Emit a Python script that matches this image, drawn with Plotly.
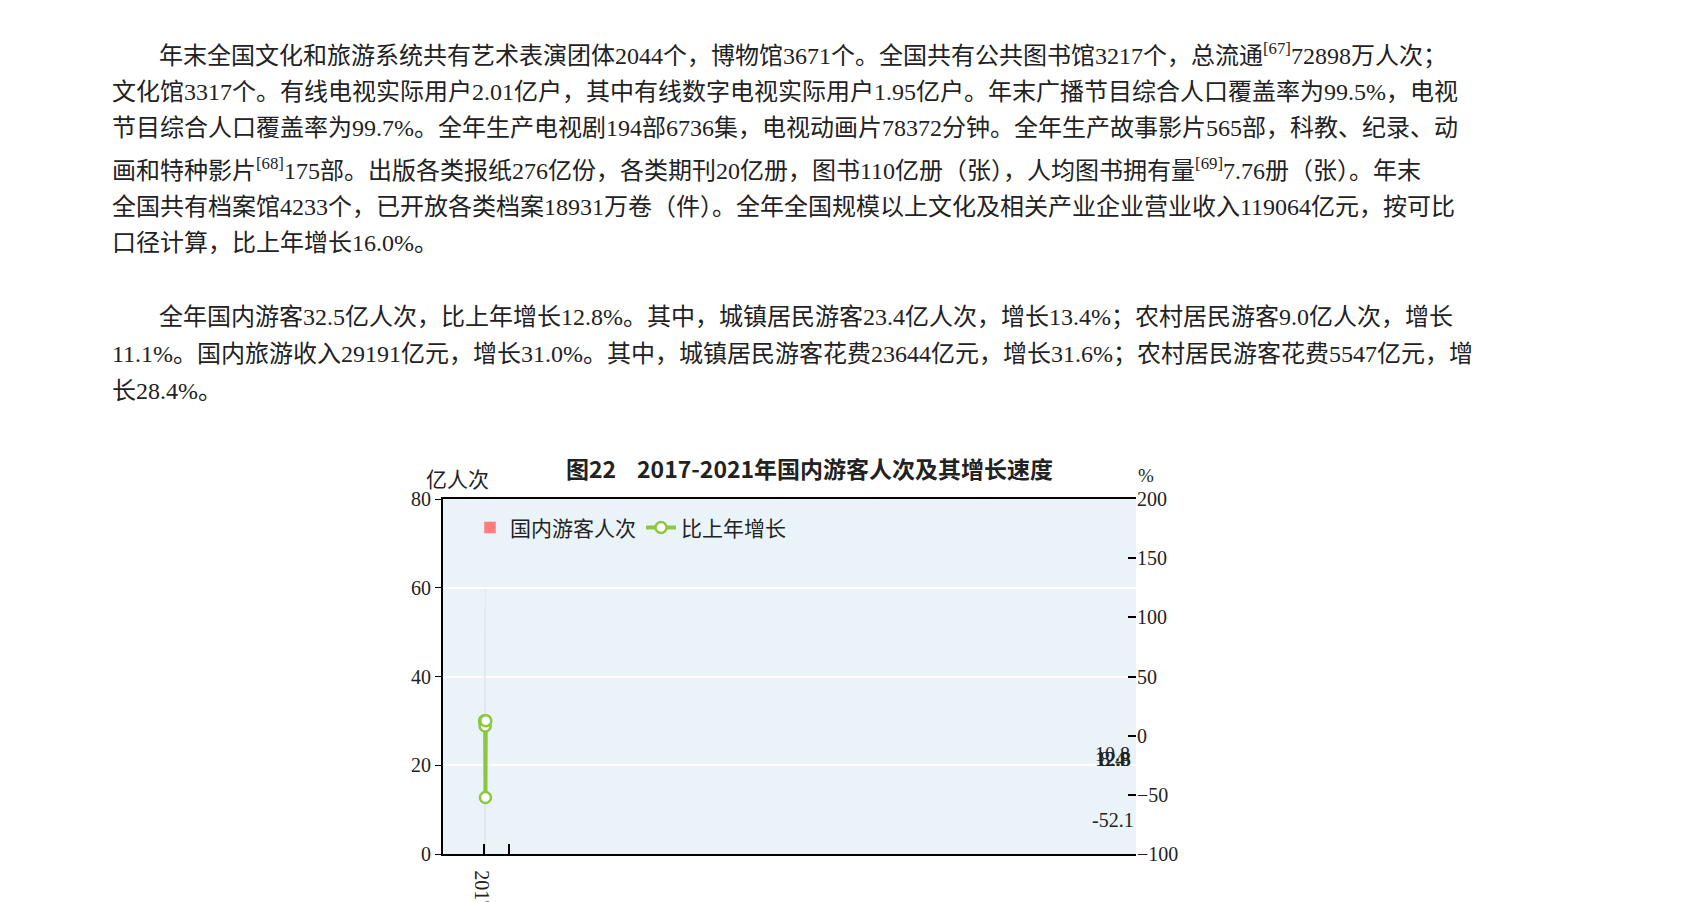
import plotly.graph_objects as go

years = ["2017", "2018", "2019", "2020", "2021"]
tourists = [50.0, 55.4, 60.1, 28.8, 32.5]
growth = [12.8, 10.8, 8.4, -52.1, 12.8]
growth_label_y = [21.4, 22.5, 21.4, 7.7, 21.4]

para_lines = [
    ("年末全国文化和旅游系统共有艺术表演团体2044个，博物馆3671个。全国共有公共图书馆3217个，总流通<sup>[67]</sup>72898万人次；", True),
    ("文化馆3317个。有线电视实际用户2.01亿户，其中有线数字电视实际用户1.95亿户。年末广播节目综合人口覆盖率为99.5%，电视", False),
    ("节目综合人口覆盖率为99.7%。全年生产电视剧194部6736集，电视动画片78372分钟。全年生产故事影片565部，科教、纪录、动", False),
    ("画和特种影片<sup>[68]</sup>175部。出版各类报纸276亿份，各类期刊20亿册，图书110亿册（张），人均图书拥有量<sup>[69]</sup>7.76册（张）。年末", False),
    ("全国共有档案馆4233个，已开放各类档案18931万卷（件）。全年全国规模以上文化及相关产业企业营业收入119064亿元，按可比", False),
    ("口径计算，比上年增长16.0%。", False),
    ("全年国内游客32.5亿人次，比上年增长12.8%。其中，城镇居民游客23.4亿人次，增长13.4%；农村居民游客9.0亿人次，增长", True),
    ("11.1%。国内旅游收入29191亿元，增长31.0%。其中，城镇居民游客花费23644亿元，增长31.6%；农村居民游客花费5547亿元，增", False),
    ("长28.4%。", False),
]
para_y = [37, 76, 114, 157, 197, 235, 312, 351, 390]

W, H = 1686, 902
serif = "Liberation Serif, Noto Sans CJK SC"
fig = go.Figure()
fig.add_trace(go.Bar(x=years, y=tourists, name="国内游客人次", marker_color="#FF7C7C",
                     width=0.44, text=[f"{v:.1f}" for v in tourists], textposition="outside",
                     textfont=dict(family=serif, size=20, color="#222"), cliponaxis=False))
fig.add_trace(go.Scatter(x=years, y=growth, name="比上年增长", yaxis="y2", mode="lines+markers",
                         line=dict(color="#8DC63F", width=4),
                         marker=dict(size=11, color="white", line=dict(color="#8DC63F", width=2.5))))

ann = []
for x, gy, g in zip(years, growth_label_y, growth):
    ann.append(dict(x=x, y=gy, xref="x", yref="y", text=f"{g:.1f}", showarrow=False,
                    font=dict(family=serif, size=20, color="#222")))
for (t, indent), y in zip(para_lines, para_y):
    ann.append(dict(x=(149 if indent else 102) / W, y=1 - y / H, xref="paper", yref="paper",
                    text=t, showarrow=False, xanchor="left", yanchor="middle",
                    font=dict(family=serif, size=24, color="#222")))
ann += [
    dict(x=0.5 * (435 + 1128) / W + 0.012, y=1 - 470 / H, xref="paper", yref="paper",
         text="<b>图22    2017-2021年国内游客人次及其增长速度</b>", showarrow=False,
         font=dict(family="Noto Sans CJK SC", size=23, color="#222")),
    dict(x=416 / W, y=1 - 483 / H, xref="paper", yref="paper", text="亿人次", showarrow=False,
         font=dict(family=serif, size=21, color="#222")),
    dict(x=1148 / W, y=1 - 478 / H, xref="paper", yref="paper", text="%", showarrow=False,
         font=dict(family=serif, size=19, color="#222")),
]

fig.update_layout(
    width=W, height=H, margin=dict(l=0, r=0, t=0, b=0),
    paper_bgcolor="white", plot_bgcolor="#EAF4F8",
    showlegend=True, bargap=0.56,
    legend=dict(orientation="h", x=462 / W, y=1 - 533 / H, xref="paper", yref="paper",
                xanchor="left", yanchor="middle", bgcolor="rgba(0,0,0,0)",
                font=dict(family=serif, size=21, color="#222")),
    xaxis=dict(type="category", domain=[435 / W, 1128 / W], showline=True, linecolor="black",
               linewidth=2, mirror=True, ticks="inside", tickson="boundaries", ticklen=10,
               tickcolor="black", tickwidth=2,
               tickfont=dict(family=serif, size=20, color="#222")),
    yaxis=dict(domain=[1 - 875 / H, 1 - 503 / H], range=[0, 80], dtick=20, showline=True,
               linecolor="black", linewidth=2, gridcolor="white", gridwidth=2,
               ticks="outside", ticklen=6, tickcolor="black", zeroline=False,
               tickfont=dict(family=serif, size=20, color="#222")),
    yaxis2=dict(overlaying="y", side="right", range=[-100, 200], dtick=50, showgrid=False,
                zeroline=False, ticks="inside", ticklen=8, tickcolor="black", tickwidth=2,
                tickfont=dict(family=serif, size=20, color="#222")),
    annotations=ann,
)
fig.write_html("out.html")
